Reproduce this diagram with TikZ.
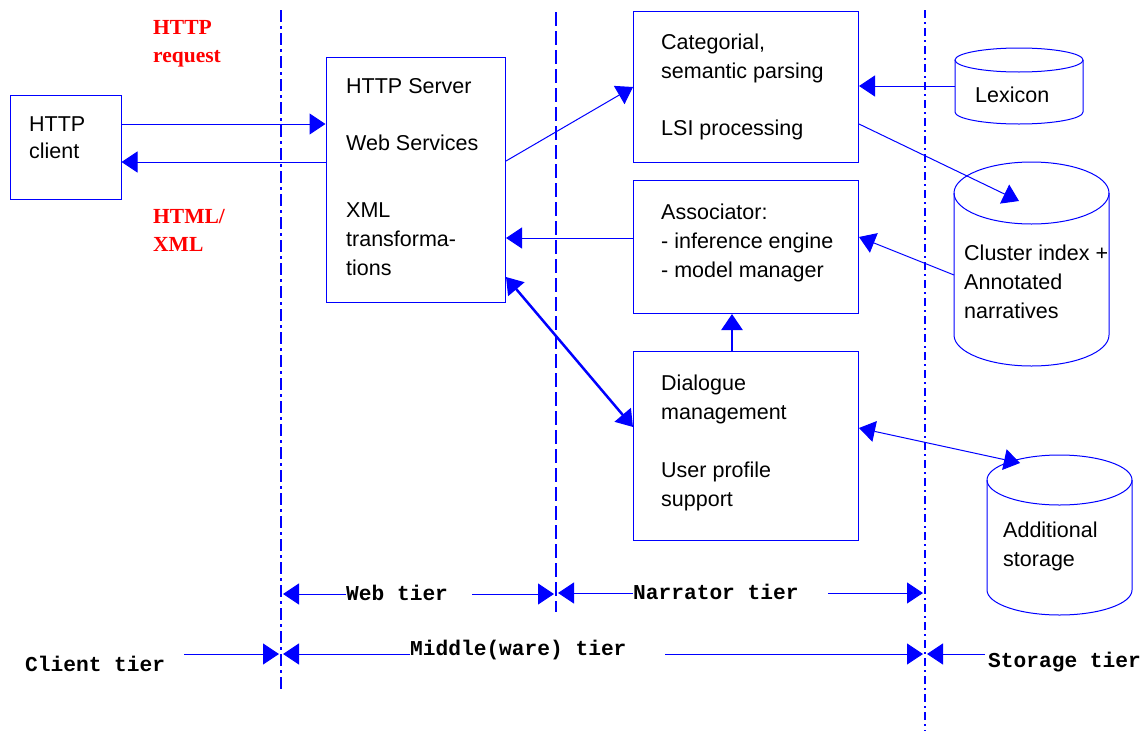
\documentclass[tikz,border=0pt]{standalone}
\usepackage{fontspec}
\usetikzlibrary{arrows.meta}
\newfontfamily\sansf{Liberation Sans}
\newfontfamily\monof{Liberation Mono}
\newfontfamily\seriff{Liberation Serif}
\definecolor{dblue}{RGB}{0,0,255}
\definecolor{dred}{RGB}{255,0,0}
\newcommand\mycyl[5]{%
  \draw[cylline] (#1,#3) -- (#1,#4) arc[start angle=180,end angle=0,x radius={(#2-#1)/2},y radius=#5] -- (#2,#3);
  \draw[cylline] ({(#1+#2)/2},#3) ellipse[x radius={(#2-#1)/2},y radius=#5];}
\begin{document}
\begin{tikzpicture}[x=1pt,y=-1pt,
  box/.style={draw=dblue,line width=1pt,inner sep=0pt,anchor=north west},
  cylline/.style={draw=dblue,line width=1pt},
  arr/.style={draw=dblue,line width=1pt,-{Triangle[length=16pt,width=21pt]}},
  darr/.style={draw=dblue,line width=1pt,{Triangle[length=16pt,width=21pt]}-{Triangle[length=16pt,width=21pt]}},
  tarr/.style={draw=dblue,line width=2.5pt,-{Triangle[length=16pt,width=21pt]}},
  tdarr/.style={draw=dblue,line width=2.5pt,{Triangle[length=16pt,width=21pt]}-{Triangle[length=16pt,width=21pt]}},
  txt/.style={anchor=base west,inner sep=0pt,font=\sansf\fontsize{21.5}{29}\selectfont},
  redtxt/.style={anchor=base west,inner sep=0pt,text=dred,font=\seriff\bfseries\fontsize{21.5}{28}\selectfont},
  tier/.style={anchor=base west,inner sep=0pt,font=\monof\bfseries\fontsize{21.2}{25}\selectfont},
  vone/.style={draw=dblue,line width=2.4pt,dash pattern=on 12pt off 4pt on 3pt off 4pt},
  vtwo/.style={draw=dblue,line width=2.4pt,dash pattern=on 14pt off 5pt},
  vthree/.style={draw=dblue,line width=2pt,dash pattern=on 8pt off 4pt on 2pt off 4pt},
]
\useasboundingbox (0,0) rectangle (1146,731);

% tier separator lines
\draw[vone] (281,10) -- (281,690);
\draw[vtwo] (556,12) -- (556,612);
\draw[vthree] (925,10) -- (925,731);

% boxes
\node[box,minimum width=110.5pt,minimum height=104pt] (cli) at (10,95) {};
\node[box,minimum width=179.5pt,minimum height=245pt] (srv) at (325.5,57) {};
\node[box,minimum width=225pt,minimum height=151pt] (cat) at (633,10.5) {};
\node[box,minimum width=225pt,minimum height=133pt] (asc) at (633,180) {};
\node[box,minimum width=225pt,minimum height=189pt] (dlg) at (633,351) {};

% cylinders
\mycyl{955}{1083}{60}{112}{12}
\mycyl{954}{1109}{193}{335}{31}
\mycyl{987}{1132}{480}{590}{25}
\coordinate (lexW) at (955,86);
\coordinate (cluT) at (1019,201);
\coordinate (cluW) at (954,275);
\coordinate (addT) at (1020,463);

% box texts
\node[txt] (tcli) at (29,131) {\parbox[t]{100pt}{HTTP\\[-2pt]client}};
\node[txt] (tsrv) at (346,93) {\parbox[t]{160pt}{HTTP Server\\[28pt]Web Services\\[38pt]XML\\transforma-\\tions}};
\node[txt] (tcat) at (661,49) {\parbox[t]{200pt}{Categorial,\\semantic parsing\\[28pt]LSI processing}};
\node[txt] (tasc) at (661,219) {\parbox[t]{200pt}{Associator:\\- inference engine\\- model manager}};
\node[txt] (tdlg) at (661,390) {\parbox[t]{200pt}{Dialogue\\management\\[29pt]User profile\\support}};
\node[txt] (tlex) at (975,102) {Lexicon};
\node[txt] (tclu) at (964,260) {\parbox[t]{180pt}{Cluster index +\\Annotated\\narratives}};
\node[txt] (tadd) at (1003,537) {\parbox[t]{140pt}{Additional\\storage}};

% red labels
\node[redtxt] (req) at (153,34) {\parbox[t]{100pt}{HTTP\\request}};
\node[redtxt] (resp) at (153,223) {\parbox[t]{100pt}{HTML/\\XML}};

% connectors
\draw[arr] (cli.east |- 0,124) -- (srv.west |- 0,124);
\draw[arr] (srv.west |- 0,162) -- (cli.east |- 0,162);
\draw[arr] (srv.east |- 0,161) -- (cat.west |- 0,87);
\draw[arr] (lexW) -- (cat.east |- lexW);
\draw[arr] (cat.east |- 0,124) -- (cluT);
\draw[arr] (asc.west |- 0,238) -- (srv.east |- 0,238);
\draw[arr] (cluW) -- (asc.east |- 0,237);
\draw[tarr] (dlg.north -| 732,0) -- (asc.south -| 732,0);
\draw[tdarr] (srv.east |- 0,277) -- (dlg.west |- 0,427);
\draw[darr] (dlg.east |- 0,428) -- (addT);

% tier labels
\node[tier] (web) at (346,600) {Web tier};
\node[tier] (nar) at (633,599) {Narrator tier};
\node[tier] (mid) at (410,655) {Middle(ware) tier};
\node[tier] (clt) at (25,671) {Client tier};
\node[tier] (stt) at (988,667) {Storage tier};

\coordinate (wl) at (283,594);
\coordinate (ws) at (472,594);
\coordinate (wr) at (554,594);
\coordinate (nl) at (558,593);
\coordinate (ns) at (828,593);
\coordinate (nr) at (923,593);
\coordinate (ml) at (283,654);
\coordinate (ms) at (665,654);
\coordinate (mr) at (923,654);
\coordinate (cs) at (184,654);
\coordinate (cr) at (279,654);
\coordinate (ss) at (985,654);
\coordinate (sl) at (927,654);

\draw[arr] (web.west |- wl) -- (wl);
\draw[arr] (ws) -- (wr);
\draw[arr] (nar.west |- nl) -- (nl);
\draw[arr] (ns) -- (nr);
\draw[arr] (mid.west |- ml) -- (ml);
\draw[arr] (ms) -- (mr);
\draw[arr] (cs) -- (cr);
\draw[arr] (ss) -- (sl);
\end{tikzpicture}
\end{document}
